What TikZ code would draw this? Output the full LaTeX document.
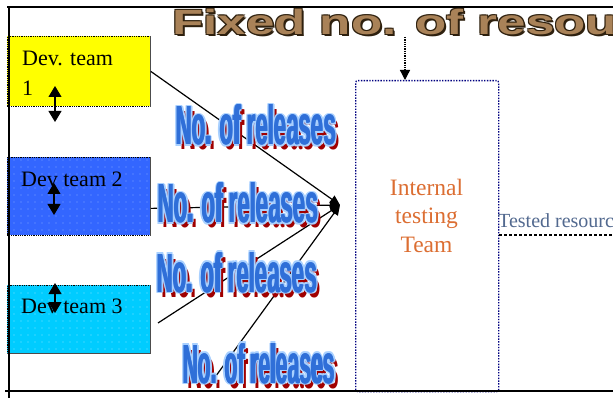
\documentclass[tikz,border=0pt]{standalone}
\usepackage{graphicx}
\usepackage{fontspec}
\setmainfont{Liberation Serif}
\newfontfamily\artsans{Liberation Sans}
\usetikzlibrary{arrows.meta,patterns.meta,calc}

\definecolor{devyellow}{HTML}{FFFF00}
\definecolor{devblue}{HTML}{3366FF}
\definecolor{devbluedot}{HTML}{7FA3FF}
\definecolor{devcyan}{HTML}{00CCFF}
\definecolor{devcyandot}{HTML}{80E4FF}
\definecolor{navyline}{HTML}{000080}
\definecolor{itorange}{HTML}{DC6E32}
\definecolor{wordred}{HTML}{A00000}
\definecolor{wordrim}{HTML}{A8D0FF}
\definecolor{wordblue}{HTML}{2F6FD8}
\definecolor{titletan}{HTML}{A98258}
\definecolor{titledark}{HTML}{2E200E}
\definecolor{testedgray}{HTML}{52698F}

% the condensed "No. of releases" word art, width given in pt
\newcommand\relbox[1]{\resizebox{#1pt}{40pt}{\artsans\bfseries No. of releases}}
% shadow, light rim and heavy blue face of one word-art label
\newcommand\relart[4]{%
  \node[relbase, text=wordred] at (#2+4,#3+5) {\relbox{#4}};
  \foreach \ox/\oy in {-2/0,2/0,0/-1.8,0/1.8,-1.4/-1.4,1.4/1.4,-1.4/1.4,1.4/-1.4}
    \node[relbase, text=wordrim] at (#2+\ox,#3+\oy) {\relbox{#4}};
  \foreach \ox in {-0.6,0.6}
    \node[relbase, text=wordblue] at (#2+\ox,#3) {\relbox{#4}};
  \node[relbase, text=wordblue] (#1) at (#2,#3) {\relbox{#4}};
}

\tikzset{
  frame/.style={line width=1.5pt, black},
  devbox/.style={anchor=north west, inner sep=0pt, minimum width=143pt,
    minimum height=#1, draw=black, densely dotted, line width=0.8pt},
  devlabel/.style={anchor=north west, inner sep=0pt, align=left,
    font=\fontsize{22}{30}\selectfont},
  updown/.style={line width=1.1pt,
    {Triangle[length=11pt,width=13pt]}-{Triangle[length=11pt,width=13pt]}},
  feed/.style={line width=1.2pt, -{Triangle[length=10pt,width=9pt]}},
  itbox/.style={anchor=north west, inner sep=0pt, minimum width=143pt,
    minimum height=311pt, draw=navyline, dash pattern=on 1.4pt off 1.4pt,
    line width=1.3pt, rounded corners=2pt},
  itlabel/.style={align=center, text=itorange, inner sep=0pt,
    font=\fontsize{23.5}{28.5}\selectfont},
  relbase/.style={anchor=north west, inner sep=0pt, outer sep=0pt},
  titletext/.style={anchor=base west, inner sep=0pt, xscale=1.46,
    font=\artsans\bfseries\fontsize{35}{35}\selectfont},
}

\begin{document}
\begin{tikzpicture}[x=1pt, y=-1pt]
  \useasboundingbox (0,0) rectangle (613,398);
  \clip (0,0) rectangle (613,398);
  \fill[white] (0,0) rectangle (613,398);

  % development teams
  \node[devbox=70pt, fill=devyellow] (d1) at (7,36) {};
  \node[devbox=78pt, fill=devblue,
        postaction={pattern={Dots[distance=7pt,radius=0.6pt]}, pattern color=devbluedot}] (d2) at (7,157) {};
  \node[devbox=68pt, fill=devcyan,
        postaction={pattern={Dots[distance=7pt,radius=0.6pt]}, pattern color=devcyandot}] (d3) at (7,285) {};
  \draw[black!70, line width=0.8pt] (d1.north east) -- (d1.south east);
  \draw[black!70, line width=0.8pt] (d2.north east) -- (d2.south east);
  \draw[black!70, line width=0.8pt] (d3.north east) -- (d3.south east) -- (d3.south west);

  \node[devlabel] (l1) at (22,50.5) {Dev. team\\1};
  \node[devlabel] (l2) at (21,172) {Dev team 2};
  \node[devlabel] (l3) at (21,298.4) {Dev team 3};

  % up/down markers inside the team boxes
  \coordinate (u1) at (55,86);  \coordinate (v1) at (55,122);
  \coordinate (u2) at (54,183); \coordinate (v2) at (54,215);
  \coordinate (u3) at (55,283); \coordinate (v3) at (55,313);
  \draw[updown] (u1) -- (v1);
  \draw[updown] (u2) -- (v2);
  \draw[updown] (u3) -- (v3);

  % internal testing team
  \node[itbox] (itb) at (355,80) {};
  \node[itlabel] (itl) at (426.5,215.5) {Internal\\testing\\Team};

  % releases flowing into testing
  \coordinate (P) at (340,205);
  \coordinate (s2) at ($(d2.east)+(0,12)$);
  \coordinate (s3) at (158,323);
  \coordinate (s4) at (213,380);
  \draw[feed] (d1.east) -- (P);
  \draw[feed] (s2) -- (P);
  \draw[feed] (s3) -- (P);
  \draw[feed] (s4) -- (P);

  \relart{r1}{176}{105}{160}
  \relart{r2}{158}{183}{160}
  \relart{r3}{157}{252}{160}
  \relart{r4}{183}{343}{152}

  % tested resources leaving the testing team
  \node[anchor=base west, inner sep=0pt, text=testedgray,
        font=\fontsize{20}{20}\selectfont] (tr) at (498,228) {Tested resources};
  \coordinate (trend) at (613,235);
  \draw[densely dashed, line width=1.2pt] (trend -| itb.east) -- (trend);

  % heading with its arrow onto the testing team
  \foreach \ox/\oy in {-1/-1,1/1,-1/1,1/-1,2/2}
    \node[titletext, text=titledark] at (172+\ox,35+\oy) {Fixed no. of resources};
  \node[titletext, text=titletan] (title) at (172,35) {Fixed no. of resources};
  \coordinate (ta) at (405,37);
  \draw[densely dotted, line width=1.3pt, -{Triangle[length=10pt,width=10pt]}] (ta) -- (ta |- itb.north);

  % page frame
  \draw[frame] (7,7) -- (613,7);
  \draw[frame] (9,7) -- (9,398);
  \draw[frame] (5,391) -- (613,391);
\end{tikzpicture}
\end{document}
